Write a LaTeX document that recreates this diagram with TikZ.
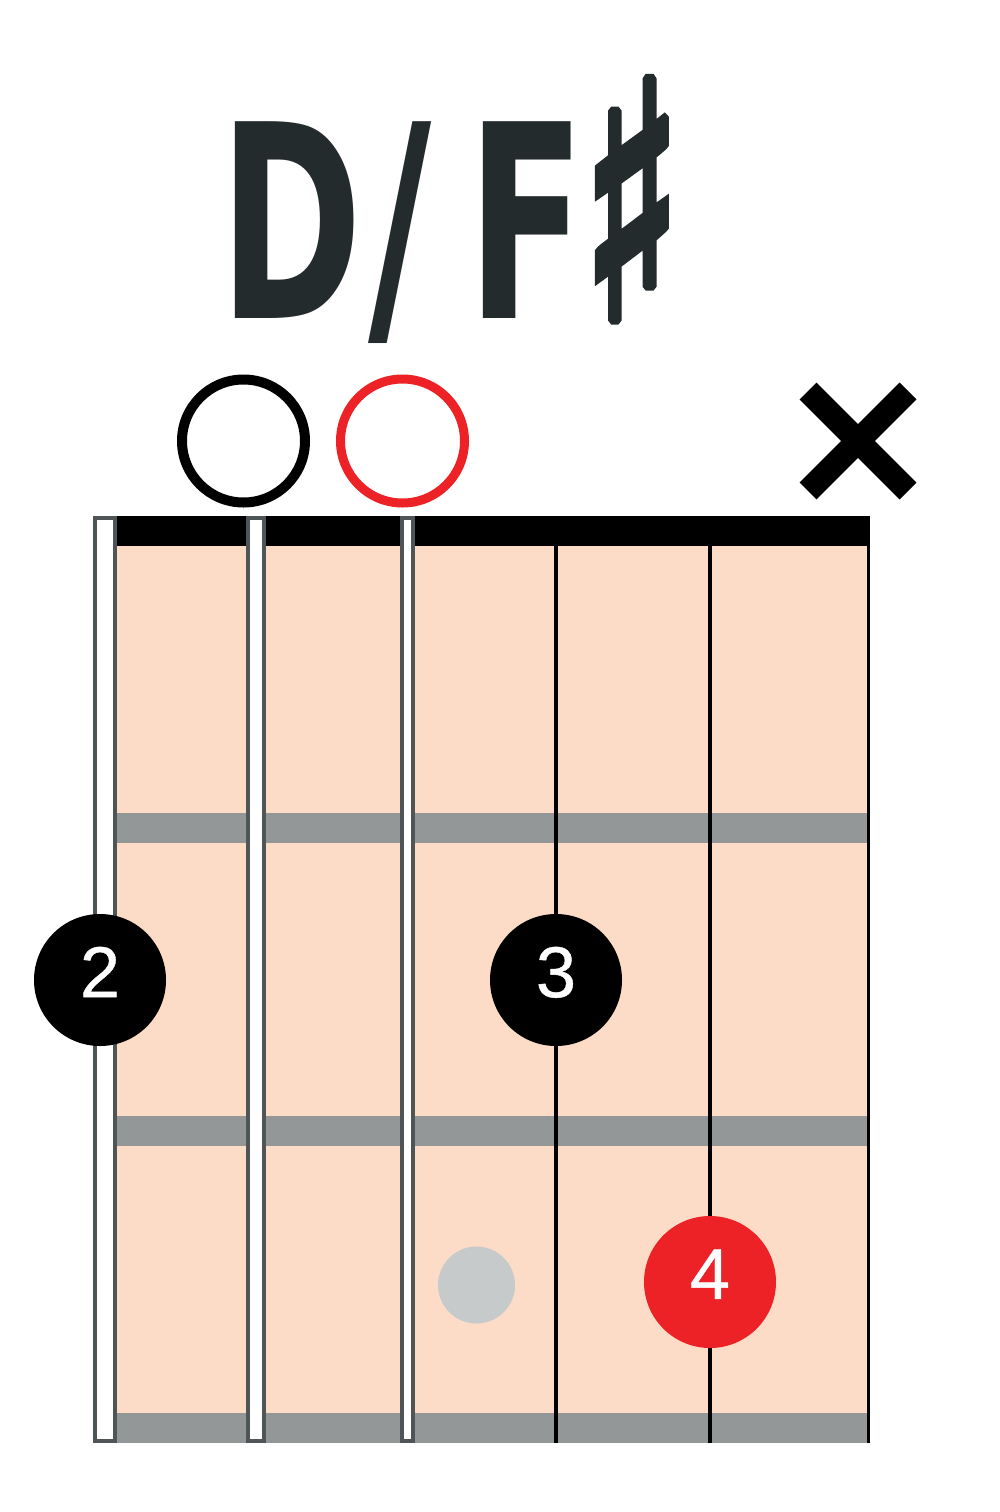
\documentclass[tikz,border=0pt]{standalone}
\usepackage{fontspec}
\newfontfamily\titlefont{DejaVu Sans}
\newfontfamily\sharpfont{DejaVu Sans Bold}[FakeBold=4]
\newfontfamily\numfont{Liberation Sans}[FakeBold=0.6]
\definecolor{board}{HTML}{FCDCC7}
\definecolor{fretgray}{HTML}{939797}
\definecolor{strgray}{HTML}{4F5557}
\definecolor{dotgray}{HTML}{C6CACA}
\definecolor{chordred}{HTML}{EC2227}
\definecolor{titlecol}{HTML}{232B2C}
\tikzset{
  fingerdot/.style={circle, minimum size=132pt, inner sep=0pt, fill=black, text=white,
    text depth=16pt, font=\numfont\fontsize{72}{72}\selectfont},
  opencirc/.style={circle, minimum size=123pt, inner sep=0pt, line width=10pt, draw=black, fill=white},
  hollowstring/.style={draw=strgray, line width=4pt, fill=white},
  plainstring/.style={draw=black, line width=4.5pt},
  fretbar/.style={fill=fretgray},
}
\begin{document}
\begin{tikzpicture}[x=1pt,y=-1pt]
\useasboundingbox (0,0) rectangle (1000,1512);
\fill[white] (0,0) rectangle (1000,1512);
% title
\node[text=titlecol, font=\titlefont\bfseries\fontsize{270}{270}\selectfont, xscale=0.64, anchor=base, inner sep=0pt] (title) at (451,318)
  {D\kern8pt/\kern56pt F\kern-6pt{\sharpfont\fontsize{325}{325}\selectfont ♯}};
% fretboard
\fill[board] (117,516) rectangle (868,1443);
\fill[fretbar] (117,813) rectangle (868,843);
\fill[fretbar] (117,1116) rectangle (868,1146);
\fill[fretbar] (117,1413) rectangle (868,1443);
\fill[black] (117,516) rectangle (870,546);
% strings
\draw[plainstring] (556,546) -- (556,1443);
\draw[plainstring] (710,546) -- (710,1443);
\draw[draw=black, line width=3pt] (868.5,516) -- (868.5,1443);
\draw[hollowstring] (95,518) rectangle (115,1441);
\draw[hollowstring] (248,518) rectangle (264,1441);
\draw[hollowstring] (402,518) rectangle (413,1441);
% open / muted markers
\node[opencirc] (open5) at (243.5,441) {};
\node[opencirc, draw=chordred, line width=9pt, minimum size=124pt] (open4) at (402.5,441) {};
\coordinate (mute) at (858,441);
\draw[line width=24pt] ([shift={(-50,-50)}]mute) -- ([shift={(50,50)}]mute);
\draw[line width=24pt] ([shift={(50,-50)}]mute) -- ([shift={(-50,50)}]mute);
% finger dots
\node[fingerdot] (f2) at (100,980) {2};
\node[fingerdot] (f3) at (556,980) {3};
\node[fingerdot, fill=chordred] (f4) at (710,1282) {4};
\node[circle, minimum size=77pt, inner sep=0pt, fill=dotgray] (ghost) at (476.5,1285) {};
\end{tikzpicture}
\end{document}
